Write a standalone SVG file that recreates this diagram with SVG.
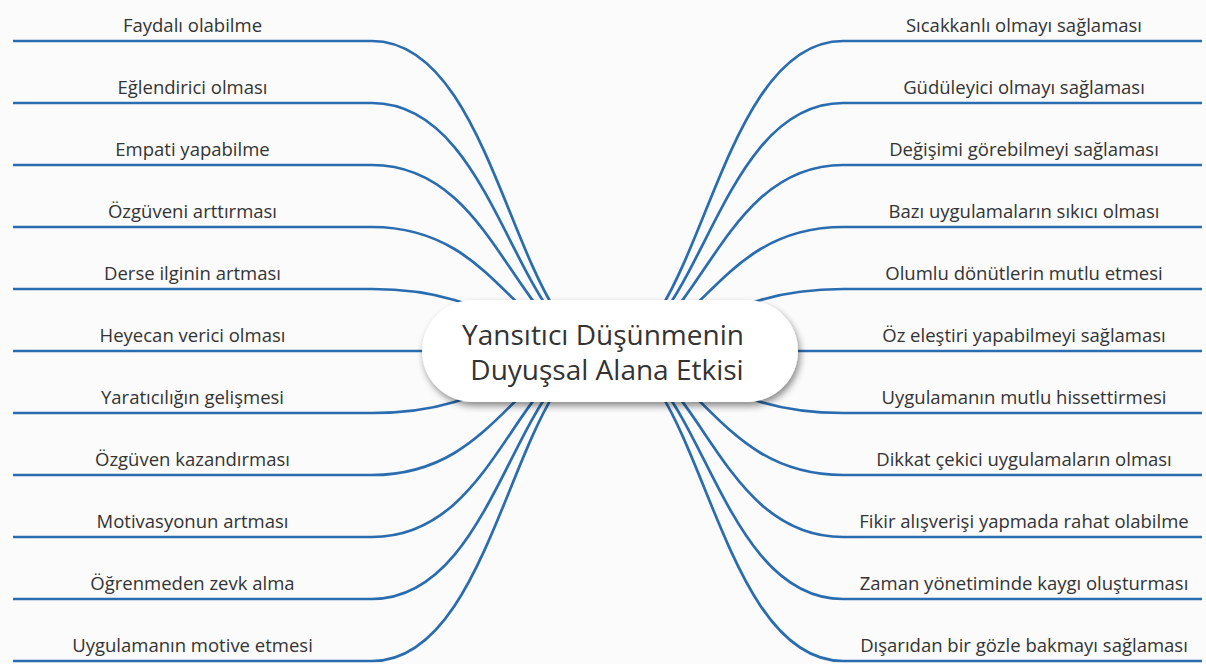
<svg xmlns="http://www.w3.org/2000/svg" width="1206" height="664" viewBox="0 0 1206 664">
  <defs>
    <filter id="shadow" x="-10%" y="-20%" width="120%" height="150%">
      <feDropShadow dx="2" dy="4" stdDeviation="3.5" flood-color="#000" flood-opacity="0.45"/>
    </filter>
  </defs>
  <style>
    .conn { fill: none; stroke: #2a6cb0; stroke-width: 2.7; }
    .leaf { font-family: "Open Sans", "Noto Sans", "DejaVu Sans", sans-serif; font-size: 18.5px; fill: #333333; text-anchor: middle; }
    .root { font-family: "Open Sans", "Noto Sans", "DejaVu Sans", sans-serif; font-size: 28px; fill: #333333; text-anchor: middle; }
  </style>
  <rect x="0" y="0" width="1206" height="664" fill="#fbfbfb"/>

  <g id="connectors">
    <path class="conn" d="M13,41 H372 C500,41 515,351 610,351"/>
    <path class="conn" d="M13,103 H372 C500,103 515,351 610,351"/>
    <path class="conn" d="M13,165 H372 C500,165 515,351 610,351"/>
    <path class="conn" d="M13,227 H372 C500,227 515,351 610,351"/>
    <path class="conn" d="M13,289 H372 C500,289 515,351 610,351"/>
    <path class="conn" d="M13,351 H610"/>
    <path class="conn" d="M13,413 H372 C500,413 515,351 610,351"/>
    <path class="conn" d="M13,475 H372 C500,475 515,351 610,351"/>
    <path class="conn" d="M13,537 H372 C500,537 515,351 610,351"/>
    <path class="conn" d="M13,599 H372 C500,599 515,351 610,351"/>
    <path class="conn" d="M13,661 H372 C500,661 515,351 610,351"/>

    <path class="conn" d="M1202,41 H843 C715,41 700,351 605,351"/>
    <path class="conn" d="M1202,103 H843 C715,103 700,351 605,351"/>
    <path class="conn" d="M1202,165 H843 C715,165 700,351 605,351"/>
    <path class="conn" d="M1202,227 H843 C715,227 700,351 605,351"/>
    <path class="conn" d="M1202,289 H843 C715,289 700,351 605,351"/>
    <path class="conn" d="M1202,351 H605"/>
    <path class="conn" d="M1202,413 H843 C715,413 700,351 605,351"/>
    <path class="conn" d="M1202,475 H843 C715,475 700,351 605,351"/>
    <path class="conn" d="M1202,537 H843 C715,537 700,351 605,351"/>
    <path class="conn" d="M1202,599 H843 C715,599 700,351 605,351"/>
    <path class="conn" d="M1202,661 H843 C715,661 700,351 605,351"/>
  </g>

  <g id="root">
    <rect x="422" y="300" width="376" height="102" rx="51" ry="51" fill="#ffffff" filter="url(#shadow)"/>
    <text class="root" x="603" y="345">Yansıtıcı Düşünmenin</text>
    <text class="root" x="607" y="380">Duyuşsal Alana Etkisi</text>
  </g>

  <g id="n-l1"><text class="leaf" x="192.5" y="32">Faydalı olabilme</text></g>
  <g id="n-l2"><text class="leaf" x="192.5" y="94">Eğlendirici olması</text></g>
  <g id="n-l3"><text class="leaf" x="192.5" y="156">Empati yapabilme</text></g>
  <g id="n-l4"><text class="leaf" x="192.5" y="218">Özgüveni arttırması</text></g>
  <g id="n-l5"><text class="leaf" x="192.5" y="280">Derse ilginin artması</text></g>
  <g id="n-l6"><text class="leaf" x="192.5" y="342">Heyecan verici olması</text></g>
  <g id="n-l7"><text class="leaf" x="192.5" y="404">Yaratıcılığın gelişmesi</text></g>
  <g id="n-l8"><text class="leaf" x="192.5" y="466">Özgüven kazandırması</text></g>
  <g id="n-l9"><text class="leaf" x="192.5" y="528">Motivasyonun artması</text></g>
  <g id="n-l10"><text class="leaf" x="192.5" y="590">Öğrenmeden zevk alma</text></g>
  <g id="n-l11"><text class="leaf" x="192.5" y="652">Uygulamanın motive etmesi</text></g>

  <g id="n-r1"><text class="leaf" x="1024" y="32">Sıcakkanlı olmayı sağlaması</text></g>
  <g id="n-r2"><text class="leaf" x="1024" y="94">Güdüleyici olmayı sağlaması</text></g>
  <g id="n-r3"><text class="leaf" x="1024" y="156">Değişimi görebilmeyi sağlaması</text></g>
  <g id="n-r4"><text class="leaf" x="1024" y="218">Bazı uygulamaların sıkıcı olması</text></g>
  <g id="n-r5"><text class="leaf" x="1024" y="280">Olumlu dönütlerin mutlu etmesi</text></g>
  <g id="n-r6"><text class="leaf" x="1024" y="342">Öz eleştiri yapabilmeyi sağlaması</text></g>
  <g id="n-r7"><text class="leaf" x="1024" y="404">Uygulamanın mutlu hissettirmesi</text></g>
  <g id="n-r8"><text class="leaf" x="1024" y="466">Dikkat çekici uygulamaların olması</text></g>
  <g id="n-r9"><text class="leaf" x="1024" y="528">Fikir alışverişi yapmada rahat olabilme</text></g>
  <g id="n-r10"><text class="leaf" x="1024" y="590">Zaman yönetiminde kaygı oluşturması</text></g>
  <g id="n-r11"><text class="leaf" x="1024" y="652">Dışarıdan bir gözle bakmayı sağlaması</text></g>
</svg>
